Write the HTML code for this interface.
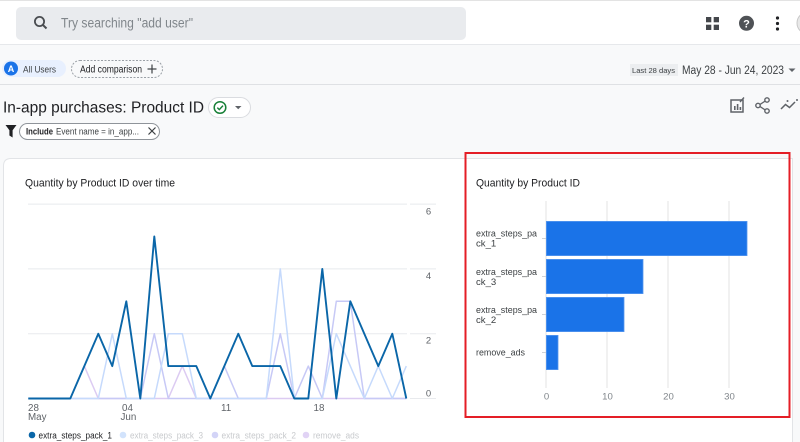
<!DOCTYPE html>
<html><head><meta charset="utf-8">
<style>
html,body{margin:0;padding:0;background:#f8f9fa;}
body{width:800px;height:442px;overflow:hidden;}
svg{display:block;font-family:"Liberation Sans",Arial,sans-serif;}
</style></head>
<body>
<svg width="800" height="442" viewBox="0 0 800 442" xmlns="http://www.w3.org/2000/svg">
<!-- page bg -->
<rect x="0" y="0" width="800" height="442" fill="#f8f9fa"/>
<!-- top bar -->
<rect x="0" y="0" width="800" height="44" fill="#ffffff"/>
<line x1="0" y1="0.5" x2="800" y2="0.5" stroke="#e3e3e3"/>
<line x1="0" y1="44.5" x2="800" y2="44.5" stroke="#e6e8eb"/>
<rect x="16" y="7" width="450" height="33" rx="5" fill="#e9ebee"/>
<circle cx="39.5" cy="21.5" r="4.6" fill="none" stroke="#4a4d51" stroke-width="1.8"/>
<line x1="42.8" y1="24.8" x2="46.5" y2="28.5" stroke="#4a4d51" stroke-width="2"/>
<text x="61" y="27.5" font-size="13.5" fill="#80868b" textLength="132" lengthAdjust="spacingAndGlyphs">Try searching "add user"</text>
<!-- grid icon -->
<rect x="706" y="17" width="5.3" height="5.3" fill="#44474b"/>
<rect x="713.7" y="17" width="5.3" height="5.3" fill="#44474b"/>
<rect x="706" y="24.7" width="5.3" height="5.3" fill="#44474b"/>
<rect x="713.7" y="24.7" width="5.3" height="5.3" fill="#44474b"/>
<circle cx="746.5" cy="23.3" r="7.5" fill="#4f5256"/>
<text x="746.5" y="27.5" font-size="11" font-weight="bold" fill="#ffffff" text-anchor="middle">?</text>
<circle cx="777.5" cy="18" r="1.6" fill="#202124"/>
<circle cx="777.5" cy="23.5" r="1.6" fill="#202124"/>
<circle cx="777.5" cy="29" r="1.6" fill="#202124"/>
<circle cx="808" cy="23" r="11" fill="#e8e8e8" stroke="#c8c8c8"/>

<!-- comparison row -->
<rect x="2" y="60" width="64" height="17" rx="8.5" fill="#e8f0fe"/>
<circle cx="11" cy="68.5" r="7" fill="#1a73e8"/>
<text x="11" y="72" font-size="9" font-weight="bold" fill="#ffffff" text-anchor="middle">A</text>
<text x="23" y="72.3" font-size="9.5" fill="#3c4043" textLength="33" lengthAdjust="spacingAndGlyphs">All Users</text>
<rect x="71.5" y="60.5" width="91" height="17" rx="8.5" fill="#f8f9fa" stroke="#9aa0a6" stroke-dasharray="2 1.5"/>
<text x="80" y="72.5" font-size="10" fill="#202124" textLength="62" lengthAdjust="spacingAndGlyphs">Add comparison</text>
<line x1="152" y1="64.5" x2="152" y2="73.5" stroke="#3c4043" stroke-width="1.2"/>
<line x1="147.5" y1="69" x2="156.5" y2="69" stroke="#3c4043" stroke-width="1.2"/>
<rect x="630" y="64" width="48" height="12" fill="#eceef0"/>
<text x="632" y="73" font-size="7.5" fill="#3c4043" textLength="43" lengthAdjust="spacingAndGlyphs">Last 28 days</text>
<text x="682" y="74.2" font-size="11.5" fill="#3c4043" textLength="102" lengthAdjust="spacingAndGlyphs">May 28 - Jun 24, 2023</text>
<polygon points="788.5,68.5 795.5,68.5 792,72" fill="#5f6368"/>
<line x1="0" y1="84.5" x2="800" y2="84.5" stroke="#dfe1e4"/>

<!-- title row -->
<text x="3" y="112.7" font-size="16" fill="#202124" textLength="201" lengthAdjust="spacingAndGlyphs">In-app purchases: Product ID</text>
<rect x="208.5" y="97.5" width="42" height="20" rx="10" fill="#ffffff" stroke="#dadce0"/>
<circle cx="220" cy="107.5" r="5.8" fill="none" stroke="#188038" stroke-width="1.5"/>
<polyline points="217.3,107.6 219.3,109.6 223,105.6" fill="none" stroke="#188038" stroke-width="1.4"/>
<polygon points="235,106 241.5,106 238.2,109.3" fill="#5f6368"/>
<!-- right icons -->
<rect x="731" y="100" width="12" height="12" fill="none" stroke="#5f6368" stroke-width="1.5"/>
<rect x="734" y="106" width="1.6" height="4" fill="#5f6368"/>
<rect x="736.8" y="104" width="1.6" height="6" fill="#5f6368"/>
<rect x="739.6" y="107" width="1.6" height="3" fill="#5f6368"/>
<line x1="740" y1="102" x2="744" y2="97.5" stroke="#5f6368" stroke-width="1.4"/>
<circle cx="767" cy="100" r="2.2" fill="none" stroke="#5f6368" stroke-width="1.4"/>
<circle cx="758" cy="105.5" r="2.2" fill="none" stroke="#5f6368" stroke-width="1.4"/>
<circle cx="767" cy="111" r="2.2" fill="none" stroke="#5f6368" stroke-width="1.4"/>
<line x1="760" y1="104.4" x2="765" y2="101.2" stroke="#5f6368" stroke-width="1.3"/>
<line x1="760" y1="106.6" x2="765" y2="109.8" stroke="#5f6368" stroke-width="1.3"/>
<polyline points="781,109 785.5,104.5 789.5,107.5 795,102" fill="none" stroke="#5f6368" stroke-width="1.5"/>
<circle cx="787.5" cy="101" r="1" fill="#5f6368"/>
<circle cx="797" cy="100" r="1" fill="#5f6368"/>

<!-- filter row -->
<polygon points="5.5,125 16.5,125 12.6,130.2 12.6,137.5 9.4,135.5 9.4,130.2" fill="#202124"/>
<rect x="19.5" y="123.5" width="140" height="16" rx="8" fill="#ffffff" stroke="#8f949a"/>
<text x="26" y="134.6" font-size="8.8" font-weight="bold" fill="#202124" textLength="27" lengthAdjust="spacingAndGlyphs">Include</text>
<text x="56" y="134.6" font-size="8.8" fill="#3c4043" textLength="83" lengthAdjust="spacingAndGlyphs">Event name = in_app...</text>
<line x1="148.5" y1="127.5" x2="155.5" y2="134.5" stroke="#3c4043" stroke-width="1.2"/>
<line x1="155.5" y1="127.5" x2="148.5" y2="134.5" stroke="#3c4043" stroke-width="1.2"/>

<!-- card -->
<path d="M3.5,450 L3.5,166 Q3.5,158.5 11,158.5 L792.5,158.5 L792.5,450 Z" fill="#ffffff" stroke="#e2e4e7"/>

<!-- line chart -->
<text x="25" y="186.5" font-size="11" fill="#202124" textLength="150" lengthAdjust="spacingAndGlyphs">Quantity by Product ID over time</text>
<g stroke="#e8eaed" stroke-width="1">
<line x1="28" y1="204.1" x2="407" y2="204.1"/>
<line x1="28" y1="268.9" x2="407" y2="268.9"/>
<line x1="28" y1="333.7" x2="407" y2="333.7"/>
<line x1="28" y1="398.5" x2="407" y2="398.5"/>
<line x1="410" y1="204.1" x2="436" y2="204.1"/>
<line x1="410" y1="268.9" x2="436" y2="268.9"/>
<line x1="410" y1="333.7" x2="436" y2="333.7"/>
<line x1="410" y1="398.5" x2="436" y2="398.5"/>
</g>
<g font-size="9.5" fill="#5f6368" text-anchor="middle">
<text x="428.5" y="214.5">6</text>
<text x="428.5" y="279">4</text>
<text x="428.5" y="343.5">2</text>
<text x="428.5" y="396.5">0</text>
</g>
<g font-size="9.8" fill="#5f6368">
<text x="28" y="410.8">28</text>
<text x="28" y="419.8">May</text>
<text x="122" y="410.8">04</text>
<text x="120.5" y="419.8">Jun</text>
<text x="221" y="410.8">11</text>
<text x="313.5" y="410.8">18</text>
</g>
<g fill="none" stroke-linejoin="round">
<polyline stroke="#dccbf2" stroke-width="1.5" points="28.3,398.5 70.3,398.5 84.3,366.1 98.3,398.5 168.3,398.5 182.3,366.1 196.3,398.5 406.3,398.5"/>
<polyline stroke="#c7c9f6" stroke-width="1.5" points="28.3,398.5 140.3,398.5 154.3,333.7 168.3,398.5 210.3,398.5 224.3,366.1 238.3,398.5 266.3,398.5 280.3,333.7 294.3,398.5 308.3,366.1 322.3,398.5 336.3,301.3 350.3,301.3 364.3,398.5 406.3,398.5"/>
<polyline stroke="#c6dafc" stroke-width="1.5" points="28.3,398.5 98.3,398.5 112.3,333.7 126.3,398.5 154.3,398.5 168.3,333.7 182.3,333.7 196.3,398.5 266.3,398.5 280.3,268.9 294.3,398.5 322.3,398.5 336.3,333.7 350.3,366.1 364.3,398.5 378.3,366.1 392.3,398.5 406.3,366.1"/>
<polyline stroke="#0a66a8" stroke-width="1.9" points="28.3,398.5 42.3,398.5 56.3,398.5 70.3,398.5 84.3,366.1 98.3,333.7 112.3,366.1 126.3,301.3 140.3,398.5 154.3,236.5 168.3,366.1 182.3,366.1 196.3,366.1 210.3,398.5 224.3,366.1 238.3,333.7 252.3,366.1 266.3,366.1 280.3,366.1 294.3,398.5 308.3,398.5 322.3,268.9 336.3,398.5 350.3,301.3 364.3,333.7 378.3,366.1 392.3,333.7 406.3,398.5"/>
</g>
<!-- legend -->
<circle cx="32" cy="435" r="3.3" fill="#0a66a8"/>
<text x="38.5" y="438.3" font-size="9" fill="#202124" textLength="73.5" lengthAdjust="spacingAndGlyphs">extra_steps_pack_1</text>
<circle cx="123" cy="435" r="3.3" fill="#d2e3fc"/>
<text x="130" y="438.3" font-size="9" fill="#c8cacd" textLength="73" lengthAdjust="spacingAndGlyphs">extra_steps_pack_3</text>
<circle cx="215" cy="435" r="3.3" fill="#d3d4f7"/>
<text x="221.5" y="438.3" font-size="9" fill="#c8cacd" textLength="74.5" lengthAdjust="spacingAndGlyphs">extra_steps_pack_2</text>
<circle cx="306" cy="435" r="3.3" fill="#e1d3f5"/>
<text x="313" y="438.3" font-size="9" fill="#c8cacd" textLength="46" lengthAdjust="spacingAndGlyphs">remove_ads</text>

<!-- bar chart -->
<text x="476" y="186.5" font-size="10.6" fill="#202124" textLength="104" lengthAdjust="spacingAndGlyphs">Quantity by Product ID</text>
<g stroke="#e3e3e3" stroke-width="1">
<line x1="546" y1="201" x2="546" y2="388"/>
<line x1="607" y1="201" x2="607" y2="388"/>
<line x1="668" y1="201" x2="668" y2="388"/>
<line x1="729" y1="201" x2="729" y2="388"/>
</g>
<g stroke="#cfd2d6" stroke-width="1">
<line x1="542" y1="238.5" x2="546" y2="238.5"/>
<line x1="542" y1="276.5" x2="546" y2="276.5"/>
<line x1="542" y1="314.5" x2="546" y2="314.5"/>
<line x1="542" y1="352.5" x2="546" y2="352.5"/>
</g>
<g fill="#1a73e8" stroke="#5596ee" stroke-width="0.8">
<rect x="546.4" y="221.4" width="200.6" height="34.2"/>
<rect x="546.4" y="259.4" width="96.6" height="34.2"/>
<rect x="546.4" y="297.4" width="77.6" height="34.2"/>
<rect x="546.4" y="335.4" width="11.6" height="34.2"/>
</g>
<g font-size="9.6" fill="#3c4043">
<text x="476" y="236.5" textLength="61" lengthAdjust="spacingAndGlyphs">extra_steps_pa</text>
<text x="476" y="246.5">ck_1</text>
<text x="476" y="274.8" textLength="61" lengthAdjust="spacingAndGlyphs">extra_steps_pa</text>
<text x="476" y="284.8">ck_3</text>
<text x="476" y="312.8" textLength="61" lengthAdjust="spacingAndGlyphs">extra_steps_pa</text>
<text x="476" y="322.8">ck_2</text>
<text x="476" y="355.3" textLength="49" lengthAdjust="spacingAndGlyphs">remove_ads</text>
</g>
<g font-size="9.6" fill="#80868b" text-anchor="middle">
<text x="546.5" y="399.5">0</text>
<text x="607.5" y="399.5">10</text>
<text x="668.5" y="399.5">20</text>
<text x="729.5" y="399.5">30</text>
</g>

<!-- red highlight -->
<rect x="465.5" y="153" width="324" height="264" fill="none" stroke="#e41e26" stroke-width="2"/>
</svg>
</body></html>
